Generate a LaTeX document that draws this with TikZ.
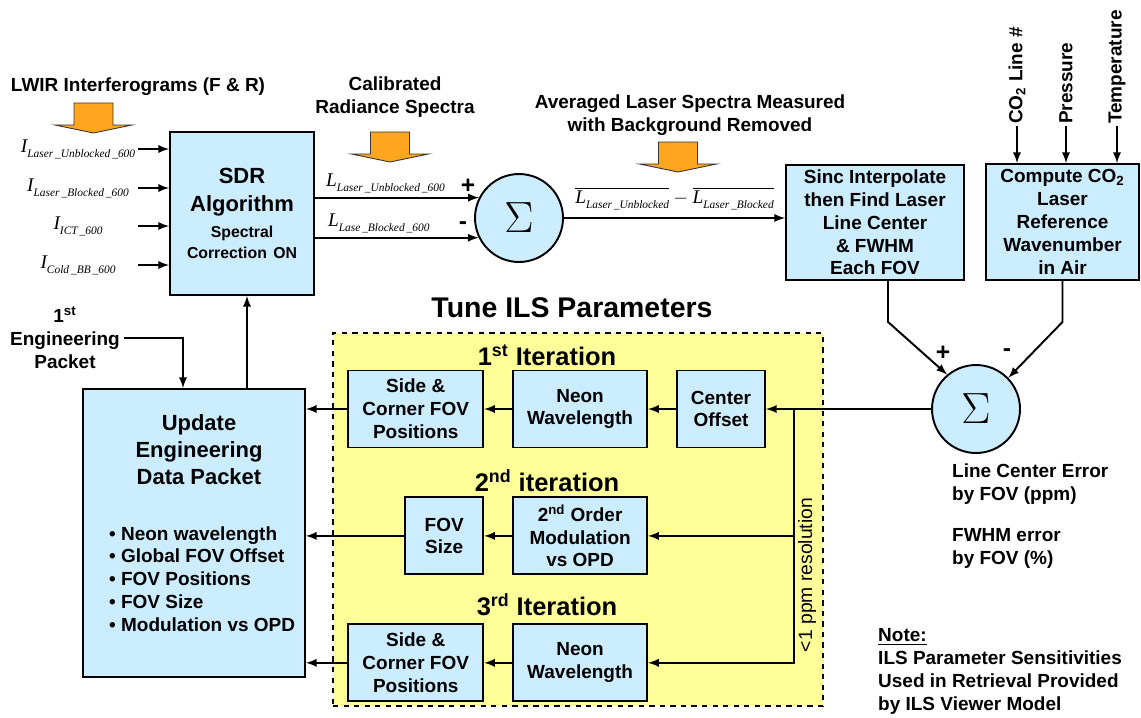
\documentclass[tikz,border=0pt]{standalone}
\usepackage{fontspec}
\setmainfont{Liberation Sans}
\newfontfamily\timesf{Liberation Serif}
\usepackage{tikz}
\usetikzlibrary{shapes,arrows,positioning,calc}
\usepackage{xcolor}
\definecolor{boxblue}{RGB}{204, 236, 255}
\definecolor{tuneyellow}{RGB}{255, 255, 153}
\definecolor{feedorange}{RGB}{255, 166, 30}

% italic signal name with a dropped subscript
\newcommand{\sigl}[2]{{\timesf\itshape #1\raisebox{-0.55ex}{\fontsize{6.5}{7}\selectfont #2}}}
% orange block arrow, #1 = x of centre, #2 = y of top
\newcommand{\feedarrow}[2]{%
  \draw[fill=feedorange, draw=black!80, line width=0.5pt]
    (#1-19.5,#2) -- (#1+19.5,#2) -- (#1+19.5,#2+22) -- (#1+38.5,#2+22)
    -- (#1,#2+30) -- (#1-38.5,#2+22) -- (#1-19.5,#2+22) -- cycle;}

\begin{document}
\begin{tikzpicture}[x=0.02cm, y=-0.02cm, >=latex,
    blk/.style={draw, line width=1.1pt, fill=boxblue, align=center, inner sep=1pt,
      font=\bfseries\fontsize{10.8}{13}\selectfont},
    sumnode/.style={draw, circle, line width=1.1pt, fill=boxblue, minimum size=1.76cm,
      inner sep=0pt, font=\fontsize{26}{26}\selectfont},
    conn/.style={->, line width=1.1pt},
    lbl/.style={align=center, font=\bfseries\fontsize{10.8}{13}\selectfont},
    iter/.style={font=\bfseries\fontsize{14.5}{16}\selectfont},
    sgn/.style={font=\bfseries\fontsize{14}{14}\selectfont},
    inlbl/.style={text width=2.4cm, align=center, inner sep=0pt, font=\fontsize{11}{13}\selectfont}]
    \useasboundingbox (0,0) rectangle (1141,717);

    % tuning region
    \node[draw, dashed, line width=1.1pt, fill=tuneyellow, minimum width=9.8cm,
      minimum height=7.46cm] (tune) at (578,519.5) {};
    \node[font=\bfseries\fontsize{16.2}{18}\selectfont] (tunettl) at (572,308) {Tune ILS Parameters};

    % top row
    \node[blk, text width=2.7cm, minimum width=2.88cm, minimum height=3.26cm] (sdr) at (242,213.5)
      {{\fontsize{12.5}{16}\selectfont SDR\\Algorithm\par}\vspace{3pt}
       {\fontsize{9}{12}\selectfont Spectral\\Correction ON\par}};
    \node[sumnode] (sum1) at (519,218) {$\Sigma$};
    \node[blk, minimum width=3.56cm, minimum height=2.3cm] (sinc) at (875,222.5)
      {Sinc Interpolate\\then Find Laser\\Line Center\\\& FWHM\\Each FOV};
    \node[blk, minimum width=3.06cm, minimum height=2.32cm] (comp) at (1062.5,222)
      {Compute CO\textsubscript{2}\\Laser\\Reference\\Wavenumber\\in Air};
    \node[sumnode] (sum2) at (976,409) {$\Sigma$};

    % inputs
    \node[lbl] (lwir) at (138,87) {LWIR Interferograms (F \& R)};
    \feedarrow{93.5}{103}
    \node[inlbl] (in1) at (78,149) {\sigl{I}{Laser\,\_Unblocked\,\_600}};
    \node[inlbl] (in2) at (78,188) {\sigl{I}{Laser\,\_Blocked\,\_600}};
    \node[inlbl] (in3) at (78,226) {\sigl{I}{ICT\,\_600}};
    \node[inlbl] (in4) at (78,265) {\sigl{I}{Cold\,\_BB\,\_600}};
    \foreach \n in {in1,in2,in3,in4}
      \draw[conn] (\n.east) -- (\n.east -| sdr.west);

    \node[lbl] (calib) at (395,97.5) {Calibrated\\Radiance Spectra};
    \feedarrow{390}{132}
    \node[lbl] (avg) at (690,115.5) {Averaged Laser Spectra Measured\\with Background Removed};
    \feedarrow{678}{142}

    \draw[conn] (sum1.153 -| sdr.east) -- node[pos=0.43, above=1pt, inner sep=1pt, font=\fontsize{11}{13}\selectfont]
      {\sigl{L}{Laser\,\_Unblocked\,\_600}} (sum1.153);
    \draw[conn] (sum1.206 -| sdr.east) -- node[pos=0.39, above=1pt, inner sep=1pt, font=\fontsize{11}{13}\selectfont]
      {\sigl{L}{Lase\,\_Blocked\,\_600}} (sum1.206);
    \node[sgn] (plus1) at (468,186) {+};
    \node[sgn] (minus1) at (463,226) {-};
    \draw[conn] (sum1.east) -- node[above=3pt, inner sep=1pt, font=\fontsize{11}{13}\selectfont]
      {$\overline{\hbox{\sigl{L}{Laser\,\_Unblocked}}}-\overline{\hbox{\sigl{L}{Laser\,\_Blocked}}}$}
      (sum1.east -| sinc.west);

    % reference wavenumber inputs
    \node[lbl, rotate=90, anchor=west, inner sep=1pt] (co2in) at (1017,126) {CO\textsubscript{2} Line \#};
    \node[lbl, rotate=90, anchor=west, inner sep=1pt] (presin) at (1066,126) {Pressure};
    \node[lbl, rotate=90, anchor=west, inner sep=1pt] (tempin) at (1117,126) {Temperature};
    \foreach \n in {co2in,presin,tempin}
      \draw[conn] (\n.west) -- (\n.west |- comp.north);

    \draw[conn] ([xshift=0.26cm]sinc.south) -- ++(0,41) -- (sum2.130);
    \draw[conn] (comp.south) -- ++(0,41) -- (sum2.44);
    \node[sgn] (plus2) at (943,353) {+};
    \node[sgn] (minus2) at (1007,353) {-};

    \node[lbl, anchor=west, align=left] (lcerr) at (946,484) {Line Center Error\\by FOV (ppm)};
    \node[lbl, anchor=west, align=left] (fwerr) at (946,548.5) {FWHM error\\by FOV (\%)};
    \node[lbl, anchor=west, align=left] (note) at (872,671.5)
      {\underline{Note:}\\ILS Parameter Sensitivities\\Used in Retrieval Provided\\by ILS Viewer Model};

    % iterations
    \node[blk, minimum width=1.76cm, minimum height=1.54cm] (co) at (721,409) {Center\\Offset};
    \node[blk, minimum width=2.68cm, minimum height=1.54cm, left=0.56cm of co] (neon1) {Neon\\Wavelength};
    \node[blk, minimum width=2.7cm, minimum height=1.54cm, left=0.56cm of neon1] (side1) {Side \&\\Corner FOV\\Positions};
    \node[blk, minimum width=2.68cm, minimum height=1.54cm, below=0.96cm of neon1] (order2)
      {2\textsuperscript{nd} Order\\Modulation\\vs OPD};
    \node[blk, minimum width=1.56cm, minimum height=1.54cm, left=0.56cm of order2] (fovsz) {FOV\\Size};
    \node[blk, minimum width=2.68cm, minimum height=1.54cm, below=0.96cm of order2] (neon3) {Neon\\Wavelength};
    \node[blk, minimum width=2.7cm, minimum height=1.54cm, left=0.56cm of neon3] (side3) {Side \&\\Corner FOV\\Positions};

    \node[iter] (it1) at (547,355) {1\textsuperscript{st} Iteration};
    \node[iter] (it2) at (547,481) {2\textsuperscript{nd} iteration};
    \node[iter] (it3) at (547,605) {3\textsuperscript{rd} Iteration};

    \draw[conn] (sum2.west) -- (co.east);
    \path (co.east) ++(28,0) coordinate (br);
    \draw[conn] (br) |- (order2.east);
    \draw[conn] (br) |- (neon3.east);
    \node[rotate=90, font=\fontsize{11}{13}\selectfont] (res) at (807,575) {<1 ppm resolution};
    \draw[conn] (co) -- (neon1);
    \draw[conn] (neon1) -- (side1);
    \draw[conn] (order2) -- (fovsz);
    \draw[conn] (neon3) -- (side3);

    % engineering packet
    \node[blk, minimum width=4.44cm, minimum height=5.76cm] (upd) at (194,533) {};
    \node[font=\bfseries\fontsize{12.5}{15.3}\selectfont, align=center] (updttl) at (199,450)
      {Update\\Engineering\\Data Packet};
    \node[lbl, anchor=west, align=left] (updlist) at (103,579)
      {\textbullet\ Neon wavelength\\\textbullet\ Global FOV Offset\\\textbullet\ FOV Positions\\\textbullet\ FOV Size\\\textbullet\ Modulation vs OPD};
    \foreach \n in {side1,fovsz,side3}
      \draw[conn] (\n.west) -- (\n.west -| upd.east);
    \draw[conn] ([xshift=1.06cm]upd.north) -- ([xshift=1.06cm]upd.north |- sdr.south);

    \node[lbl, inner sep=2pt] (pkt) at (65,338) {1\textsuperscript{st}\\Engineering\\Packet};
    \draw[conn] (pkt.east) -| ([xshift=-0.22cm]upd.north);
\end{tikzpicture}
\end{document}
